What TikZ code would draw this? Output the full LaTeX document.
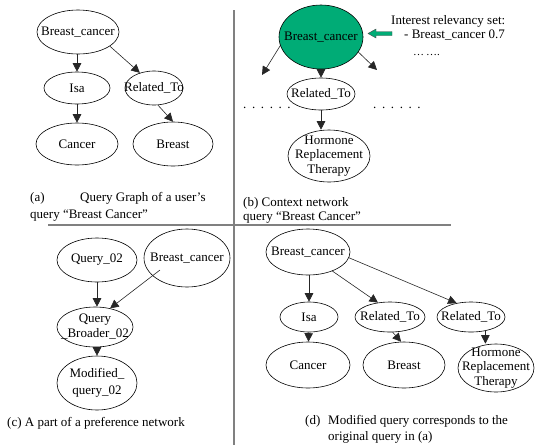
\documentclass[tikz,border=0pt]{standalone}
\usepackage{fontspec}
\setmainfont{Liberation Serif}
\usetikzlibrary{shapes.geometric,arrows.meta,calc}
\definecolor{sea}{RGB}{0,172,118}
\definecolor{divgray}{RGB}{128,128,128}
\begin{document}
\begin{tikzpicture}[x=1pt,y=-1pt,
  every node/.style={font=\fontsize{13}{15}\selectfont},
  ell/.style={draw, ellipse, inner sep=-40pt, line width=0.6pt, align=center},
  conn/.style={line width=0.6pt, draw=black!85, -{Triangle[length=8.5pt,width=8.5pt]}},
  divider/.style={draw=divgray, line width=2pt},
  captext/.style={anchor=base west, inner sep=0pt},
  dotrow/.style={anchor=base west, inner sep=0pt}]
\useasboundingbox (0,0) rectangle (535,445);

% dividers
\draw[divider] (233.5,10) -- (233.5,445);
\draw[divider] (48,225) -- (451,225);

% ---------------- panel (a)
\node[ell, minimum width=82pt, minimum height=44pt] (a1) at (78,32) {Breast\_cancer};
\node[ell, minimum width=66pt, minimum height=32pt] (a2) at (77,88) {Isa};
\node[ell, minimum width=58pt, minimum height=34pt] (a3) at (154,88) {Related\_To};
\node[ell, minimum width=82pt, minimum height=42pt] (a4) at (77,144) {Cancer};
\node[ell, minimum width=80pt, minimum height=44pt] (a5) at (173,144) {Breast};
\draw[conn] (a1.south -| a2) -- (a2);
\draw[conn] (a1.-24) -- (a3.133);
\draw[conn] (a3.-77) -- (a5.north);
\draw[conn] (a2) -- (a4);
\node[captext] (capa1) at (30,201) {(a)};
\node[captext] (capa2) at (80,201) {Query Graph of a user’s};
\node[captext] (capa3) at (30,218) {query “Breast Cancer”};

% ---------------- panel (b)
\node[ell, fill=sea, minimum width=84pt, minimum height=64pt] (b1) at (321,37) {Breast\_cancer};
\node[ell, minimum width=68pt, minimum height=32pt] (b2) at (321,94) {Related\_To};
\node[ell, minimum width=82pt, minimum height=52pt, font=\fontsize{13}{14.5}\selectfont] (b3) at (329,156) {Hormone\\Replacement\\Therapy};
\coordinate (bl) at (262,75);
\coordinate (br) at (377,70);
\draw[conn] (b1.192) -- (bl);
\draw[conn] (b1.-22) -- (br);
\draw[conn] (b1) -- (b2);
\draw[conn] (b2.south) -- (b2.south |- b3.north);
\node[dotrow] (dl) at (243,108) {.\hspace{5.6pt}.\hspace{5.6pt}.\hspace{5.6pt}.\hspace{5.6pt}.\hspace{5.6pt}.};
\node[dotrow] (dr) at (373,108) {.\hspace{5.6pt}.\hspace{5.6pt}.\hspace{5.6pt}.\hspace{5.6pt}.\hspace{5.6pt}.};
\filldraw[fill=sea, draw=black!70, line width=0.4pt]
  (368,33.5) -- (376,29) -- (376,31.5) -- (392,31.5) -- (392,35.5) -- (376,35.5) -- (376,38) -- cycle;
\node[captext] (rel1) at (391,24) {Interest relevancy set:};
\node[captext] (rel2) at (404,38) {- Breast\_cancer 0.7};
\node[captext, font=\fontsize{11}{13}\selectfont] (rel3) at (413,55) {…\,….};
\node[captext] (capb1) at (243,206) {(b) Context network};
\node[captext] (capb2) at (243,220) {query “Breast Cancer”};

% ---------------- panel (c)
\node[ell, minimum width=80pt, minimum height=44pt] (c1) at (97,260) {Query\_02};
\node[ell, minimum width=86pt, minimum height=58pt] (c2) at (187,258) {Breast\_cancer};
\node[ell, minimum width=76pt, minimum height=40pt] (c3) at (95,327) {Query\\\_Broader\_02};
\node[ell, minimum width=80pt, minimum height=54pt, font=\fontsize{13}{17}\selectfont] (c4) at (97,383) {Modified\_\\query\_02};
\draw[conn] (c1.south) -- (c1.south |- c3.north);
\draw[conn] ($(c2)+(-27,12)$) -- (c3.51);
\draw[conn] (c3.south -| c4) -- (c4.north);
\node[captext] (capc) at (7,426) {(c) A part of a preference network};

% ---------------- panel (d)
\node[ell, minimum width=84pt, minimum height=46pt] (d1) at (308,252) {Breast\_cancer};
\node[ell, minimum width=58pt, minimum height=30pt] (d2) at (309,317) {Isa};
\node[ell, minimum width=70pt, minimum height=30pt] (d3) at (390,317) {Related\_To};
\node[ell, minimum width=68pt, minimum height=30pt] (d4) at (471,317) {Related\_To};
\node[ell, minimum width=84pt, minimum height=46pt] (d5) at (308,365) {Cancer};
\node[ell, minimum width=82pt, minimum height=46pt] (d6) at (404,365) {Breast};
\node[ell, minimum width=76pt, minimum height=48pt, font=\fontsize{13}{14.5}\selectfont] (d7) at (496,368) {Hormone\\Replacement\\Therapy};
\draw[conn] (d1.south -| d2) -- (d2);
\draw[conn] (d1.-38) -- (d3.130);
\draw[conn] (d1.-8) -- (d4.136);
\draw[conn] (d3.-80) -- (d6.97);
\draw[conn] (d2) -- (d5);
\draw[conn] (d4.-44) -- (d4.-44 |- d7.north);
\node[captext] (capd1) at (305,424) {(d)};
\node[captext] (capd2) at (328,424) {Modified query corresponds to the};
\node[captext] (capd3) at (328,440) {original query in (a)};
\end{tikzpicture}
\end{document}
